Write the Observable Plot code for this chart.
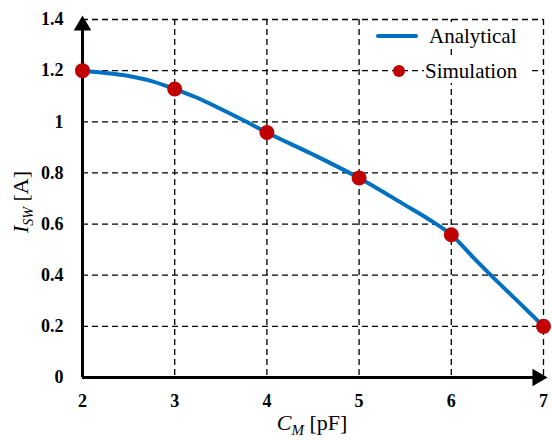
<!DOCTYPE html>
<html><head><meta charset="utf-8">
<script src="https://cdn.jsdelivr.net/npm/d3@7"></script>
<script src="https://cdn.jsdelivr.net/npm/@observablehq/plot@0.6"></script>
<style>body{margin:0;background:#fff}</style>
</head><body><div id="chart"></div>
<script>
const xTicks = [2, 3, 4, 5, 6, 7];
const yTicks = [0, 0.2, 0.4, 0.6, 0.8, 1, 1.2, 1.4];
const yTickLabels = ["0", "0.2", "0.4", "0.6", "0.8", "1", "1.2", "1.4"];
const simX = [2, 3, 4, 5, 6, 7];
const simY = [1.2, 1.128, 0.958, 0.78, 0.558, 0.2];
const anaX = [2, 2.25, 2.5, 2.75, 3, 3.25, 3.5, 3.75, 4, 4.5, 5, 5.5, 5.75, 6, 6.25, 6.5, 6.75, 7];
const anaY = [1.2, 1.191, 1.179, 1.159, 1.128, 1.093, 1.05, 1.005, 0.958, 0.872, 0.78, 0.674, 0.62, 0.558, 0.465, 0.375, 0.288, 0.2];

const sim = simX.map((x, i) => ({x, y: simY[i]}));
const ana = anaX.map((x, i) => ({x, y: anaY[i]}));
const BLUE = "#0070C0", RED = "#C00000";
const SERIF = "Liberation Serif, DejaVu Serif";

const plot = Plot.plot({
  width: 552, height: 440,
  marginLeft: 82, marginRight: 9, marginTop: 19, marginBottom: 63,
  style: {fontFamily: SERIF, background: "#fff"},
  x: {domain: [2, 7], ticks: xTicks},
  y: {domain: [0, 1.4], ticks: yTicks},
  marks: [
    Plot.gridX(xTicks, {stroke: "#000", strokeOpacity: 1, strokeWidth: 1.3, strokeDasharray: "6,4"}),
    Plot.gridY(yTicks, {stroke: "#000", strokeOpacity: 1, strokeWidth: 1.3, strokeDasharray: "6,4"}),
    Plot.axisX(xTicks, {tickSize: 0, tickPadding: 17, label: null, fontSize: 18, fontWeight: "bold", fontFamily: SERIF, fill: "#000"}),
    Plot.axisY(yTicks, {tickSize: 0, tickPadding: 19, label: null, fontSize: 18, fontWeight: "bold", fontFamily: SERIF, fill: "#000",
      tickFormat: (d) => yTickLabels[yTicks.indexOf(d)]}),
    Plot.ruleX([2], {stroke: "#000", strokeWidth: 3}),
    Plot.ruleY([0], {stroke: "#000", strokeWidth: 3}),
    Plot.dot([{x: 2, y: 1.4}], {x: "x", y: "y", symbol: "triangle", r: 6.5, fill: "#000", stroke: "none", dy: 6}),
    Plot.dot([{x: 7, y: 0}], {x: "x", y: "y", symbol: "triangle", r: 6.5, fill: "#000", stroke: "none", rotate: 90, dx: -6}),
    Plot.line(ana, {x: "x", y: "y", stroke: BLUE, strokeWidth: 4, curve: "monotone-x"}),
    Plot.dot(sim, {x: "x", y: "y", r: 7.5, fill: RED, stroke: "none"})
  ]
});
document.getElementById("chart").appendChild(plot);

const svg = d3.select(plot);
// x label
const xl = svg.append("text").attr("x", 312).attr("y", 430).attr("text-anchor", "middle")
  .attr("font-family", SERIF).attr("font-size", 22).attr("fill", "#000");
xl.append("tspan").attr("font-style", "italic").text("C");
xl.append("tspan").attr("font-style", "italic").attr("font-size", 15).attr("dy", 5).text("M");
xl.append("tspan").attr("dy", -5).text(" [pF]");
// y label
const yl = svg.append("text").attr("transform", "translate(28,202) rotate(-90)").attr("text-anchor", "middle")
  .attr("font-family", SERIF).attr("font-size", 22).attr("fill", "#000");
yl.append("tspan").attr("font-style", "italic").text("I");
yl.append("tspan").attr("font-style", "italic").attr("font-size", 14).attr("dy", 5).text("SW");
yl.append("tspan").attr("dy", -5).text(" [A]");
// legend
const lg = svg.append("g").attr("font-family", SERIF).attr("font-size", 21).attr("text-anchor", "start").attr("fill", "#000");
lg.append("rect").attr("x", 426).attr("y", 22).attr("width", 110).attr("height", 27).attr("fill", "#fff");
lg.append("line").attr("x1", 378).attr("x2", 416).attr("y1", 36).attr("y2", 36).attr("stroke", BLUE).attr("stroke-width", 4).attr("stroke-linecap", "round");
lg.append("text").attr("x", 429).attr("y", 43).text("Analytical");
lg.append("rect").attr("x", 424).attr("y", 57).attr("width", 106).attr("height", 26).attr("fill", "#fff");
lg.append("circle").attr("cx", 399).attr("cy", 71).attr("r", 6).attr("fill", RED);
lg.append("text").attr("x", 425).attr("y", 78).text("Simulation");
</script>
</body></html>
